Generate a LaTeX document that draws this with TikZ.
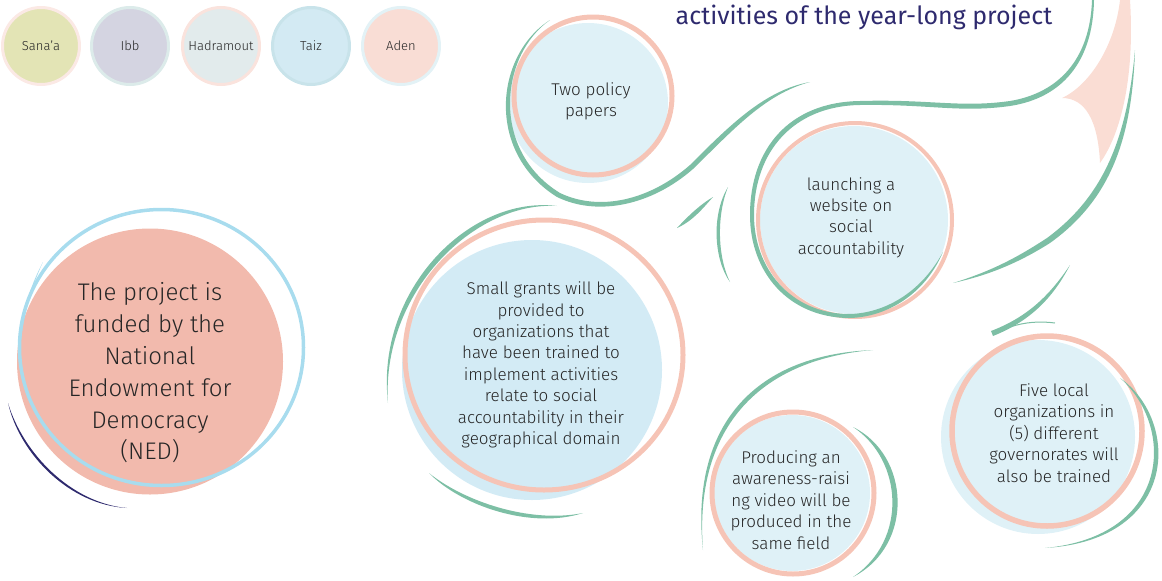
\documentclass[tikz,border=0pt]{standalone}
\usepackage{fontspec}
\setmainfont{Fira Sans}[UprightFont={* Light}]
\newfontfamily\headfont{Fira Sans}
\usetikzlibrary{positioning}

\definecolor{leaf}{HTML}{7DBFA5}
\definecolor{salmon}{HTML}{F6C4B6}
\definecolor{sky}{HTML}{DFF1F7}
\definecolor{ice}{HTML}{D3EBF5}
\definecolor{coral}{HTML}{F2BAAD}
\definecolor{azure}{HTML}{A8DCEE}
\definecolor{indigo}{HTML}{2E2A6E}
\definecolor{ink}{HTML}{262626}
\definecolor{blush}{HTML}{FADDD4}
\definecolor{sanaa}{HTML}{E3E4B5}
\definecolor{sanaarim}{HTML}{FBE9E5}
\definecolor{ibb}{HTML}{D4D4E1}
\definecolor{ibbrim}{HTML}{DCEBEA}
\definecolor{hadra}{HTML}{E2EBEC}
\definecolor{hadrarim}{HTML}{FAE3DD}
\definecolor{taiz}{HTML}{D3EAF3}
\definecolor{taizrim}{HTML}{C8E3EA}
\definecolor{aden}{HTML}{F9DDD5}
\definecolor{adenrim}{HTML}{E3F2F6}

\begin{document}
\begin{tikzpicture}[x=1pt,y=-1pt,
  bubble/.style={circle,inner sep=0pt,fill=sky},
  rim/.style={draw=salmon,line width=5pt},
  blurb/.style={align=center,text=ink,font=\fontsize{17}{21.4}\selectfont},
  town/.style={circle,inner sep=0pt,minimum size=77pt,line width=3pt,text=ink,font=\fontsize{13}{15}\selectfont}]
  \useasboundingbox (0,0) rectangle (1162,581);

  % governorates
  \foreach \cx/\town/\body in {41/Sana’a/sanaa,130/Ibb/ibb,221/Hadramout/hadra,311/Taiz/taiz,401/Aden/aden}
    \node[town,fill=\body,draw=\body rim] (\body) at (\cx,46) {\town};

  \node[anchor=base,text=indigo,font=\headfont\fontsize{25}{30}\selectfont] (title) at (864,24) {activities of the year-long project};

  % pink flame on the right
  \fill[blush] (1120,0) .. controls (1115,45) and (1090,85) .. (1062,98) .. controls (1085,98) and (1098,120) .. (1100,163) .. controls (1120,135) and (1135,80) .. (1130,0) -- cycle;

  % NED
  \node[bubble,fill=coral,minimum size=266pt] (ned) at (150,361.5) {};
  \draw[azure,line width=3.5pt] (161.5,347.5) ellipse [x radius=142,y radius=138];
  \fill[azure] (43,262) .. controls (28,290) and (20,320) .. (20,352) .. controls (22,320) and (30,290) .. (43,262) -- cycle;
  \fill[indigo] (8,403) .. controls (20,455) and (70,505) .. (127,508) .. controls (71,503) and (23,453) .. (8,403) -- cycle;
  \node[blurb,font=\fontsize{24}{31.8}\selectfont] (nedtext) at (150,373) {The project is\\funded by the\\National\\Endowment for\\Democracy\\(NED)};

  % two policy papers
  \node[bubble,minimum size=160pt] (policy) at (588,103) {};
  \draw[rim] (593,96) circle [radius=79];
  \fill[leaf] (550,20) .. controls (500,55) and (490,150) .. (560,193) .. controls (600,212) and (650,200) .. (690,165) .. controls (730,125) and (765,90) .. (810,82) .. controls (765,94) and (733,130) .. (693,169) .. controls (652,205) and (598,217) .. (557,197) .. controls (485,152) and (495,55) .. (550,20) -- cycle;
  \node[blurb] (policytext) at (591,101.5) {Two policy\\papers};

  % small grants
  \node[bubble,fill=ice,minimum size=260pt] (grants) at (532,370) {};
  \draw[rim] (544,355) ellipse [x radius=139,y radius=135];
  \fill[leaf] (557,206) .. controls (470,195) and (375,290) .. (388,403) .. controls (381,293) and (474,201) .. (557,206) -- cycle;
  \fill[leaf] (429,473) .. controls (460,505) and (530,530) .. (583,513) .. controls (528,524) and (462,500) .. (429,473) -- cycle;
  \node[blurb] (grantstext) at (541,365) {Small grants will be\\provided to\\organizations that\\have been trained to\\implement activities\\relate to social\\accountability in their\\geographical domain};

  % website
  \node[bubble,minimum size=188pt] (launch) at (854,220) {};
  \draw[rim,line width=4pt] (855,220) circle [radius=97];
  \fill[leaf] (943,252) .. controls (922,300) and (880,318) .. (848,318) .. controls (788,317) and (750,272) .. (750,215) .. controls (750,149) and (789,102) .. (860,101) .. controls (930,99) and (960,108) .. (1010,101) .. controls (1058,93) and (1090,60) .. (1092,0) -- (1094,0) .. controls (1093,62) and (1062,98) .. (1010,106) .. controls (960,113) and (930,104) .. (860,105) .. controls (793,106) and (754,152) .. (754,215) .. controls (754,268) and (790,313) .. (848,314) .. controls (878,314) and (918,298) .. (943,252) -- cycle;
  \fill[leaf] (728,187) .. controls (711,215) and (714,260) .. (730,282) .. controls (718,258) and (716,217) .. (728,187) -- cycle;
  \fill[leaf] (677,228) .. controls (689,215) and (701,204) .. (713,197) .. controls (704,207) and (693,221) .. (677,228) -- cycle;
  \node[blurb] (launchtext) at (851,217.5) {launching a\\website on\\social\\accountability};

  % right swirls
  \fill[leaf] (1135,50) .. controls (1132,140) and (1110,200) .. (1050,243) .. controls (1020,262) and (990,275) .. (953,283) .. controls (992,271) and (1018,257) .. (1047,238) .. controls (1104,196) and (1127,138) .. (1135,50) -- cycle;
  \fill[leaf] (1070,265) .. controls (1048,298) and (1025,318) .. (991,331) -- (993,336) .. controls (1028,322) and (1052,300) .. (1070,265) -- cycle;
  \draw[leaf,line width=1pt] (1010,327) .. controls (1025,322) and (1040,321) .. (1055,323);

  % five local organizations
  \node[bubble,minimum size=194pt] (five) at (1038,437) {};
  \draw[rim,line width=5.5pt] (1047,431) circle [radius=95];
  \fill[leaf] (1120,378) .. controls (1180,420) and (1180,540) .. (1045,548) .. controls (1172,536) and (1175,426) .. (1120,378) -- cycle;
  \node[blurb] (fivetext) at (1054,433) {Five local\\organizations in\\(5) different\\governorates will\\also be trained};

  % video
  \node[bubble,minimum size=156pt] (video) at (792,493) {};
  \draw[rim] (793,493) circle [radius=81];
  \fill[leaf] (873,350) .. controls (750,355) and (690,430) .. (703,550) .. controls (694,432) and (755,360) .. (873,350) -- cycle;
  \fill[leaf] (853,427) .. controls (910,455) and (915,545) .. (853,577) .. controls (908,540) and (903,460) .. (853,427) -- cycle;
  \node[blurb] (videotext) at (791,500) {Producing an\\awareness-raisi\\ng video will be\\produced in the\\same field};
\end{tikzpicture}
\end{document}
